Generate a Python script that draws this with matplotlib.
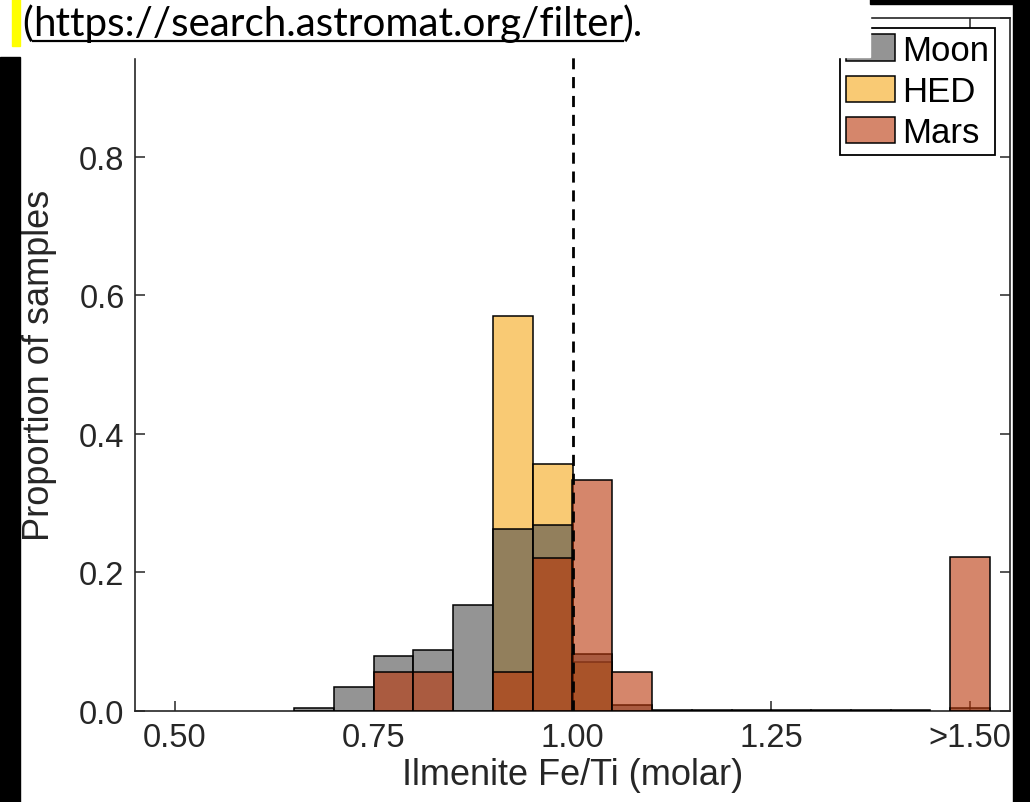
import matplotlib
matplotlib.use("Agg")
import matplotlib.pyplot as plt
from matplotlib.patches import Rectangle, Patch
from matplotlib.colors import to_rgba

plt.rcParams['font.family'] = ['Liberation Sans', 'DejaVu Sans']

# histogram bins (width 0.05); the last one is the overflow bin ">1.50"
bin_centers = [0.675, 0.725, 0.775, 0.825, 0.875, 0.925, 0.975, 1.025, 1.075,
               1.125, 1.175, 1.225, 1.275, 1.325, 1.375, 1.425, 1.500]
moon = [0.005, 0.035, 0.079, 0.088, 0.153, 0.263, 0.268, 0.082, 0.008,
        0.002, 0.002, 0.002, 0.002, 0.002, 0.002, 0.002, 0.004]
hed = [0, 0, 0, 0, 0, 0.570, 0.357, 0.071, 0,
       0, 0, 0, 0, 0, 0, 0, 0]
mars = [0, 0, 0.056, 0.056, 0, 0.056, 0.221, 0.333, 0.056,
        0, 0, 0, 0, 0, 0, 0, 0.222]
bin_width = 0.05

xticks = [0.50, 0.75, 1.00, 1.25, 1.50]
xticklabels = ['0.50', '0.75', '1.00', '1.25', '>1.50']
yticks = [0.0, 0.2, 0.4, 0.6, 0.8, 1.0]
yticklabels = ['0.0', '0.2', '0.4', '0.6', '0.8', '']  # 1.0 is hidden under the pasted text
threshold = 1.0
url = 'https://search.astromat.org/filter'

colors = {'Moon': (0.30, 0.30, 0.30), 'HED': (0.96, 0.66, 0.09), 'Mars': (0.73, 0.21, 0.03)}
alpha = 0.6
ink = '#262626'

fig = plt.figure(figsize=(10.30, 8.03), dpi=100)
ax = fig.add_axes([135 / 1030, 91 / 803, 875 / 1030, 693 / 803])

# drawing order as in the original: HED, then Moon, then Mars on top
for name, vals, z in [('HED', hed, 2), ('Moon', moon, 3), ('Mars', mars, 4)]:
    xs = [c for c, v in zip(bin_centers, vals) if v > 0]
    hs = [v for v in vals if v > 0]
    ax.bar(xs, hs, width=bin_width, color=to_rgba(colors[name], alpha),
           edgecolor='black', linewidth=1.1, zorder=z)

ax.axvline(threshold, color='black', lw=2.0, linestyle=(0, (4.0, 2.8)), zorder=6)

ax.set_xlim(0.45, 1.55)
ax.set_ylim(0, 1.0)
ax.set_xticks(xticks)
ax.set_xticklabels(xticklabels)
ax.set_yticks(yticks)
ax.set_yticklabels(yticklabels)
ax.tick_params(direction='in', length=7.5, width=1.1, top=True, right=True,
               labelsize=23.5, colors=ink)
ax.tick_params(axis='x', pad=8.0)
ax.tick_params(axis='y', pad=7.5)
for s in ax.spines.values():
    s.set_linewidth(1.2)
    s.set_color(ink)

ax.set_xlabel('Ilmenite Fe/Ti (molar)', fontsize=26, color=ink)
ax.xaxis.set_label_coords(0.5, -0.066)
ax.set_ylabel('Proportion of samples', fontsize=26, color=ink)
ax.yaxis.set_label_coords(-0.089, 0.5)

handles = [Patch(facecolor=to_rgba(colors[n], alpha), edgecolor='black', linewidth=1.1, label=n)
           for n in ['Moon', 'HED', 'Mars']]
leg = ax.legend(handles=handles, loc='upper right', bbox_to_anchor=(0.983, 0.986),
                borderaxespad=0, fontsize=25, handlelength=1.43, handleheight=0.8,
                handletextpad=0.2, labelspacing=0.24, borderpad=0.17,
                fancybox=False, framealpha=1, edgecolor='black')
leg.get_frame().set_linewidth(1.3)
leg.set_zorder(8)

# screenshot overlay: pasted text strip and black margins
ov = fig.add_axes([0, 0, 1, 1], zorder=10)
ov.set_xlim(0, 1030)
ov.set_ylim(803, 0)
ov.axis('off')
ov.patch.set_alpha(0)
ov.add_patch(Rectangle((0, 0), 870, 58, color='white'))
ov.add_patch(Rectangle((12, 0), 8, 47, color='#ffff00'))
ov.add_patch(Rectangle((0, 58), 20, 745, color='black'))
ov.add_patch(Rectangle((870, 0), 160, 5, color='black'))
ov.add_patch(Rectangle((1013, 0), 17, 803, color='black'))

renderer = fig.canvas.get_renderer()
base_y = 36
t_url = ov.text(0, base_y, url, fontsize=30, family='Lato', va='baseline')
w = t_url.get_window_extent(renderer).width
t_url.set_fontsize(30 * 588 / w)
fs = t_url.get_fontsize()
t_open = ov.text(22, base_y, '(', fontsize=fs, family='Lato', va='baseline')
x0 = 22 + t_open.get_window_extent(renderer).width
t_url.set_x(x0)
x1 = x0 + t_url.get_window_extent(renderer).width
ov.text(x1, base_y, ').', fontsize=fs, family='Lato', va='baseline')
ov.plot([x0, x1], [42, 42], color='black', lw=1.6)

fig.savefig('out.png', dpi=100)
